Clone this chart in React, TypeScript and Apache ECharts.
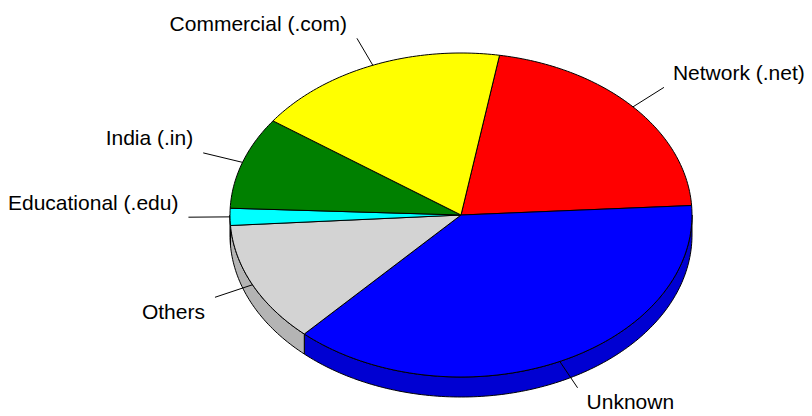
import React, { useEffect, useRef } from "react";
import * as echarts from "echarts";

const categories = ["Network (.net)", "Unknown", "Others", "Educational (.edu)", "India (.in)", "Commercial (.com)"];
const values = [21.4, 37.8, 12.1, 1.7, 9.2, 17.8];
const topColors = ["#ff0000", "#0000ff", "#d3d3d3", "#00ffff", "#008000", "#ffff00"];
const sideColors = ["#b40000", "#0000d2", "#b4b4b4", "#00b4b4", "#005a00", "#b4b400"];
const startAngle = 9.6;

const CX = 461;
const CY = 215;
const RX = 231;
const RY = 162;
const DEPTH = 20;

function pt(theta: number, r = 1, dy = 0): number[] {
  const a = (theta * Math.PI) / 180;
  return [CX + RX * r * Math.sin(a), CY - RY * r * Math.cos(a) + dy];
}

function sliceRange(i: number): [number, number] {
  const total = values.reduce((s, v) => s + v, 0);
  let acc = 0;
  for (let k = 0; k < i; k++) acc += values[k];
  const a = startAngle + (360 * acc) / total;
  const b = a + (360 * values[i]) / total;
  return [a, b];
}

function arc(a: number, b: number, dy = 0): number[][] {
  const pts: number[][] = [];
  const n = Math.max(2, Math.ceil((b - a) / 1));
  for (let k = 0; k <= n; k++) pts.push(pt(a + ((b - a) * k) / n, 1, dy));
  return pts;
}

export default function App() {
  const ref = useRef<HTMLDivElement>(null);
  useEffect(() => {
    if (!ref.current) return;
    const chart = echarts.init(ref.current, null, { renderer: "svg" });
    const data = values.map((v, i) => ({ name: categories[i], value: v }));
    chart.setOption({
      animation: false,
      backgroundColor: "#ffffff",
      series: [
        {
          type: "custom",
          coordinateSystem: "none",
          silent: true,
          z: 1,
          data,
          renderItem: (params: any, api: any) => {
            const i = params.dataIndex;
            const [a, b] = sliceRange(i);
            const s = Math.max(a, 90);
            const e = Math.min(b, 270);
            if (e <= s) return { type: "group", children: [] };
            const top = arc(s, e, 0);
            const bottom = arc(s, e, DEPTH).reverse();
            return {
              type: "polygon",
              shape: { points: top.concat(bottom) },
              style: { fill: sideColors[i], stroke: "#000", lineWidth: 1 },
            };
          },
        },
        {
          type: "custom",
          coordinateSystem: "none",
          silent: true,
          z: 2,
          data,
          renderItem: (params: any, api: any) => {
            const i = params.dataIndex;
            const [a, b] = sliceRange(i);
            const pts = [[CX, CY]].concat(arc(a, b, 0));
            const mid = (a + b) / 2;
            const p0 = pt(mid, 1);
            const p1 = pt(mid, 1.18);
            const right = Math.sin((mid * Math.PI) / 180) > 0;
            const upper = Math.cos((mid * Math.PI) / 180) > -0.1;
            return {
              type: "group",
              children: [
                {
                  type: "polygon",
                  shape: { points: pts },
                  style: { fill: topColors[i], stroke: "#000", lineWidth: 1 },
                },
                {
                  type: "line",
                  shape: { x1: p0[0], y1: p0[1], x2: p1[0], y2: p1[1] },
                  style: { stroke: "#000", lineWidth: 1 },
                },
                {
                  type: "text",
                  style: {
                    text: categories[i],
                    x: p1[0] + (right ? 9 : -10),
                    y: p1[1] + (upper ? -15 : 14),
                    fill: "#000",
                    fontSize: 21,
                    fontFamily: "'Liberation Sans', Arial, sans-serif",
                    textAlign: right ? "left" : "right",
                    textVerticalAlign: "middle",
                  },
                },
              ],
            };
          },
        },
      ],
    });
    return () => chart.dispose();
  }, []);
  return (
    <div style={{ position: "fixed", left: 0, top: 0, width: 812, height: 416, background: "#fff" }}>
      <div ref={ref} style={{ width: 812, height: 416 }} />
    </div>
  );
}
